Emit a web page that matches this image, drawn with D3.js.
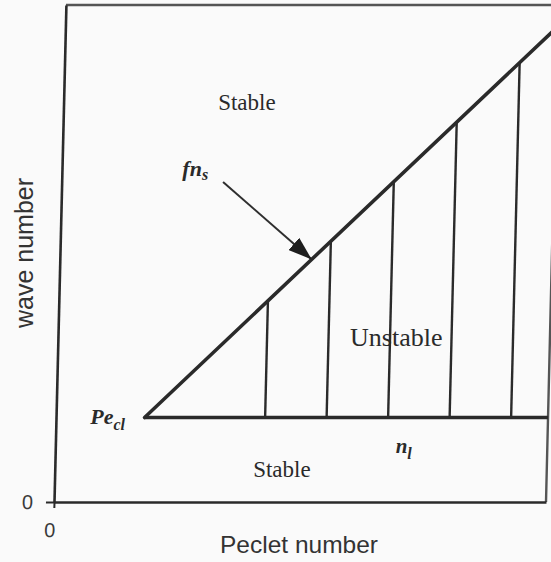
<!DOCTYPE html>
<html>
<head>
<meta charset="utf-8">
<script src="https://cdn.jsdelivr.net/npm/d3@7"></script>
<style>
  html, body { margin: 0; padding: 0; background: #fafafa; }
  svg { display: block; }
</style>
</head>
<body>
<svg id="chart" width="551" height="562"></svg>
<script>
// Stability diagram: wave number vs Peclet number
const xTicks = [0];
const yTicks = [0];

// Onset point (Pe_cl, n_l)
const onsetPe = 18;
const onsetWave = 17;

// Neutral stability line fn_s
const fnsPe = [18, 100];
const fnsWave = [17, 95.6];

// Lower bound n_l
const nlPe = [18, 100];
const nlWave = [17, 17];

// Hatch lines through the unstable wedge
const hatchPe = [42.5, 55, 67.5, 80, 92.5];
const hatchTop = [40.5, 52.5, 64.4, 76.4, 88.4];

// Pointer to the fn_s curve
const arrowPe = [32.8, 51.2];
const arrowWave = [64.4, 48.8];

const W = 551, H = 562;
const mLeft = 54, mRight = 546, mTop = 5, mBottom = 502;
const lean = 0.024; // slight slant of the frame

const x = d3.scaleLinear().domain([0, 100]).range([mLeft, mRight]);
const y = d3.scaleLinear().domain([0, 100]).range([mBottom, mTop]);

const svg = d3.select("#chart");
const ink = "#2a2a2a";
const serif = "'Liberation Serif', 'Times New Roman', serif";
const sans = "'Liberation Sans', Arial, sans-serif";

svg.append("rect").attr("width", W).attr("height", H).attr("fill", "#fafafa");

// screen position of a data point, including the slant
const pos = (pv, wv) => [x(pv) + lean * (mBottom - y(wv)), y(wv)];

const skewDeg = -Math.atan(lean) * 180 / Math.PI;
const plot = svg.append("g")
  .attr("transform", `translate(0,${mBottom}) skewX(${skewDeg}) translate(0,${-mBottom})`);

// frame: top and right edges
plot.append("path")
  .attr("d", `M${x(0)},${y(100)} H${x(100)} V${y(0)}`)
  .attr("fill", "none").attr("stroke", "#555").attr("stroke-width", 2.4);

// axes
const yAxis = plot.append("g").attr("transform", `translate(${x(0)},0)`)
  .call(d3.axisLeft(y).tickValues(yTicks).tickSize(8).tickPadding(13).tickSizeOuter(0));
const xAxis = plot.append("g").attr("transform", `translate(0,${y(0)})`)
  .call(d3.axisBottom(x).tickValues(xTicks).tickSize(6).tickPadding(15).tickSizeOuter(0));
[yAxis, xAxis].forEach(g => {
  g.select(".domain").attr("stroke", ink).attr("stroke-width", 2.6);
  g.selectAll(".tick line").attr("stroke", ink).attr("stroke-width", 2);
  g.selectAll(".tick text").attr("fill", "#3a3a3a").attr("font-family", sans).attr("font-size", 20);
});
xAxis.selectAll(".tick text").attr("dx", -4);

const line = d3.line().x(d => x(d[0])).y(d => y(d[1]));

// hatch lines
plot.selectAll("line.hatch").data(hatchPe).join("line")
  .attr("class", "hatch")
  .attr("x1", d => x(d)).attr("x2", d => x(d))
  .attr("y1", y(onsetWave)).attr("y2", (d, i) => y(hatchTop[i]))
  .attr("stroke", ink).attr("stroke-width", 2.4);

// n_l
plot.append("path").datum(nlPe.map((p, i) => [p, nlWave[i]]))
  .attr("d", line).attr("fill", "none").attr("stroke", ink).attr("stroke-width", 3.4);

// fn_s
plot.append("path").datum(fnsPe.map((p, i) => [p, fnsWave[i]]))
  .attr("d", line).attr("fill", "none").attr("stroke", ink).attr("stroke-width", 3.6)
  .attr("stroke-linecap", "round");

// arrow
svg.append("defs").append("marker")
  .attr("id", "head").attr("viewBox", "0 0 24 16")
  .attr("refX", 24).attr("refY", 8)
  .attr("markerWidth", 24).attr("markerHeight", 16)
  .attr("markerUnits", "userSpaceOnUse").attr("orient", "auto")
  .append("path").attr("d", "M0,0 L24,8 L0,16 Z").attr("fill", "#1e1e1e");
plot.append("path").datum(arrowPe.map((p, i) => [p, arrowWave[i]]))
  .attr("d", line).attr("fill", "none").attr("stroke", "#2e2e2e").attr("stroke-width", 2)
  .attr("marker-end", "url(#head)");

// labels
const labels = svg.append("g").attr("fill", "#2a2a2a");

function region(txt, pv, wv, size) {
  const p = pos(pv, wv);
  labels.append("text").attr("x", p[0]).attr("y", p[1])
    .attr("text-anchor", "middle").attr("font-family", serif).attr("font-size", size)
    .text(txt);
}
region("Stable", 37.3, 78.9, 23);
region("Unstable", 68.8, 31.4, 26);
region("Stable", 46.2, 5.0, 23);

function symbol(main, sub, pv, wv, size, subSize, subDy) {
  const p = pos(pv, wv);
  const t = labels.append("text").attr("x", p[0]).attr("y", p[1])
    .attr("font-family", serif).attr("font-style", "italic").attr("font-weight", "bold")
    .attr("font-size", size);
  t.append("tspan").text(main);
  t.append("tspan").attr("font-size", subSize).attr("dy", subDy).text(sub);
}
symbol("Pe", "cl", 7.0, 15.7, 22, 16, 6);
symbol("fn", "s", 24.5, 65.6, 22, 16, 4);
symbol("n", "l", 69.2, 9.9, 21, 16, 6);

// axis titles
svg.append("text")
  .attr("x", 299).attr("y", 553).attr("text-anchor", "middle")
  .attr("font-family", sans).attr("font-size", 24.5).attr("fill", "#333")
  .text("Peclet number");
svg.append("text")
  .attr("transform", "translate(33,253) rotate(-90)").attr("text-anchor", "middle")
  .attr("font-family", sans).attr("font-size", 25).attr("fill", "#333")
  .text("wave number");
</script>
</body>
</html>
